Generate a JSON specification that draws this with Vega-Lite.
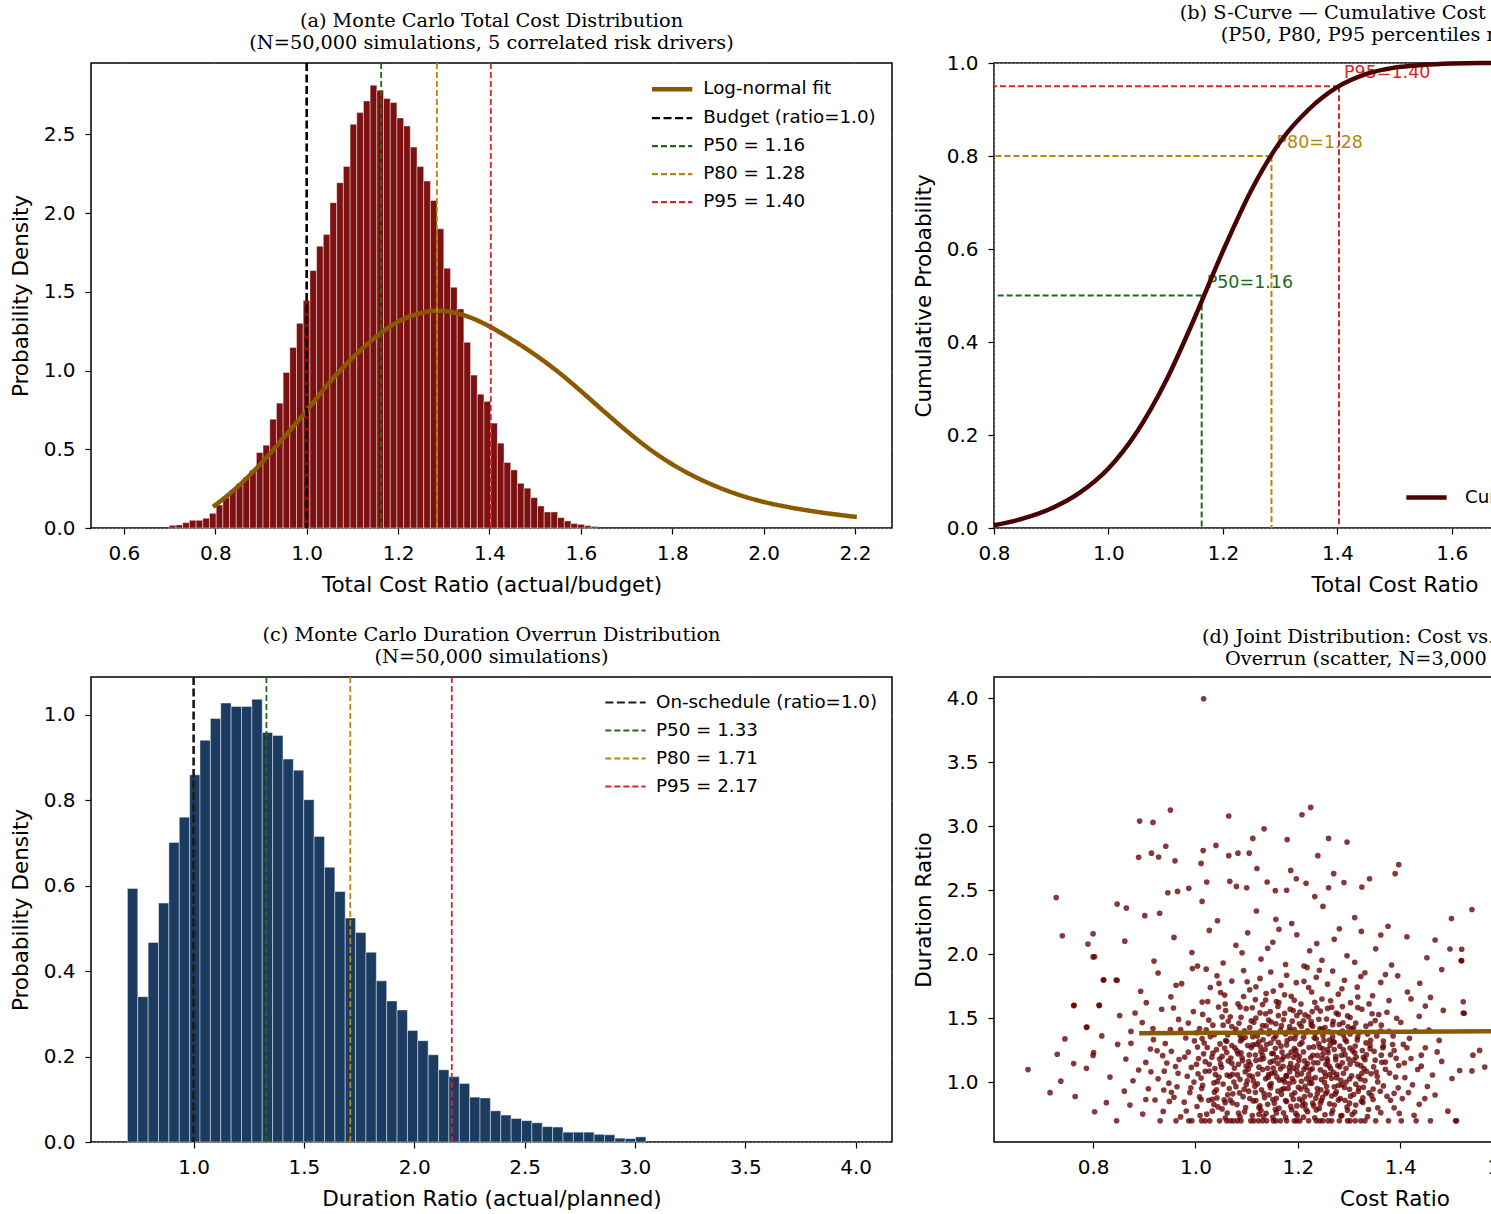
{
"$schema": "https://vega.github.io/schema/vega-lite/v6.json",
"padding": {"left": 9, "top": 2, "right": 5, "bottom": 2},
"background": "white",
"config": {
 "view": {"stroke": "black", "strokeWidth": 1.5},
 "axis": {"domain": false, "grid": true, "gridColor": "white", "gridOpacity": 0.35, "gridDash": [2,2], "tickColor": "black", "tickSize": 6, "tickWidth": 1.2, "labelFont": "DejaVu Sans", "labelFontSize": 20, "labelColor": "black", "labelPadding": 9, "labelFlush": false, "labelOverlap": false, "titleFont": "DejaVu Sans", "titleFontSize": 21.5, "titleFontWeight": "normal", "titleColor": "black", "zindex": 1},
 "axisY": {"titlePadding": 11, "labelPadding": 10},
 "axisX": {"titlePadding": 11},
 "title": {"font": "DejaVu Serif", "fontSize": 19.3, "fontWeight": "normal", "lineHeight": 22, "offset": 8, "anchor": "middle", "color": "black"},
 "legend": {"title": null, "labelFont": "DejaVu Sans", "labelFontSize": 18.3, "labelColor": "black", "labelLimit": 500, "padding": 0, "rowPadding": 5, "symbolType": "M-1.55,0L1.55,0", "symbolSize": 676, "symbolStrokeWidth": 2.2, "labelOffset": 17, "orient": "none"}
},
"spacing": {"row": 28, "column": 19},
"columns": 2,
"resolve": {"scale": {"color": "independent", "strokeDash": "independent"}, "legend": {"color": "independent", "strokeDash": "independent"}},
"datasets": {
 "histA": [
  {"x0":0.6994,"x1":0.7141,"y":0.017},{"x0":0.7141,"x1":0.7287,"y":0.020},{"x0":0.7287,"x1":0.7434,"y":0.034},{"x0":0.7434,"x1":0.7580,"y":0.049},{"x0":0.7580,"x1":0.7727,"y":0.049},{"x0":0.7727,"x1":0.7873,"y":0.062},{"x0":0.7873,"x1":0.8020,"y":0.093},{"x0":0.8020,"x1":0.8166,"y":0.146},{"x0":0.8166,"x1":0.8313,"y":0.193},{"x0":0.8313,"x1":0.8459,"y":0.240},
  {"x0":0.8459,"x1":0.8606,"y":0.282},{"x0":0.8606,"x1":0.8752,"y":0.320},{"x0":0.8752,"x1":0.8899,"y":0.367},{"x0":0.8899,"x1":0.9045,"y":0.479},{"x0":0.9045,"x1":0.9192,"y":0.526},{"x0":0.9192,"x1":0.9338,"y":0.691},{"x0":0.9338,"x1":0.9485,"y":0.793},{"x0":0.9485,"x1":0.9631,"y":0.988},{"x0":0.9631,"x1":0.9778,"y":1.147},{"x0":0.9778,"x1":0.9924,"y":1.300},
  {"x0":0.9924,"x1":1.0071,"y":1.444},{"x0":1.0071,"x1":1.0217,"y":1.635},{"x0":1.0217,"x1":1.0364,"y":1.790},{"x0":1.0364,"x1":1.0510,"y":1.864},{"x0":1.0510,"x1":1.0657,"y":2.066},{"x0":1.0657,"x1":1.0803,"y":2.193},{"x0":1.0803,"x1":1.0950,"y":2.296},{"x0":1.0950,"x1":1.1096,"y":2.564},{"x0":1.1096,"x1":1.1243,"y":2.638},{"x0":1.1243,"x1":1.1389,"y":2.712},
  {"x0":1.1389,"x1":1.1536,"y":2.812},{"x0":1.1536,"x1":1.1682,"y":2.780},{"x0":1.1682,"x1":1.1829,"y":2.727},{"x0":1.1829,"x1":1.1975,"y":2.702},{"x0":1.1975,"x1":1.2122,"y":2.604},{"x0":1.2122,"x1":1.2268,"y":2.553},{"x0":1.2268,"x1":1.2415,"y":2.419},{"x0":1.2415,"x1":1.2561,"y":2.296},{"x0":1.2561,"x1":1.2708,"y":2.203},{"x0":1.2708,"x1":1.2854,"y":2.080},
  {"x0":1.2854,"x1":1.3001,"y":1.900},{"x0":1.3001,"x1":1.3147,"y":1.650},{"x0":1.3147,"x1":1.3294,"y":1.529},{"x0":1.3294,"x1":1.3440,"y":1.391},{"x0":1.3440,"x1":1.3587,"y":1.179},{"x0":1.3587,"x1":1.3733,"y":0.971},{"x0":1.3733,"x1":1.3880,"y":0.850},{"x0":1.3880,"x1":1.4026,"y":0.804},{"x0":1.4026,"x1":1.4173,"y":0.666},{"x0":1.4173,"x1":1.4319,"y":0.539},
  {"x0":1.4319,"x1":1.4466,"y":0.416},{"x0":1.4466,"x1":1.4612,"y":0.369},{"x0":1.4612,"x1":1.4759,"y":0.284},{"x0":1.4759,"x1":1.4905,"y":0.253},{"x0":1.4905,"x1":1.5052,"y":0.193},{"x0":1.5052,"x1":1.5198,"y":0.140},{"x0":1.5198,"x1":1.5345,"y":0.102},{"x0":1.5345,"x1":1.5491,"y":0.102},{"x0":1.5491,"x1":1.5638,"y":0.066},{"x0":1.5638,"x1":1.5784,"y":0.045},
  {"x0":1.5784,"x1":1.5931,"y":0.028},{"x0":1.5931,"x1":1.6077,"y":0.023},{"x0":1.6077,"x1":1.6224,"y":0.015},{"x0":1.6224,"x1":1.6370,"y":0.010}
 ],
 "fitA": [
  {"s":"Log-normal fit","x":0.795,"y":0.134},{"s":"Log-normal fit","x":0.85,"y":0.265},{"s":"Log-normal fit","x":0.9,"y":0.41},{"s":"Log-normal fit","x":0.95,"y":0.575},{"s":"Log-normal fit","x":1.0,"y":0.745},{"s":"Log-normal fit","x":1.05,"y":0.925},{"s":"Log-normal fit","x":1.1,"y":1.08},{"s":"Log-normal fit","x":1.15,"y":1.21},{"s":"Log-normal fit","x":1.2,"y":1.31},{"s":"Log-normal fit","x":1.25,"y":1.365},{"s":"Log-normal fit","x":1.285,"y":1.38},{"s":"Log-normal fit","x":1.32,"y":1.37},{"s":"Log-normal fit","x":1.36,"y":1.335},{"s":"Log-normal fit","x":1.4,"y":1.28},{"s":"Log-normal fit","x":1.45,"y":1.195},{"s":"Log-normal fit","x":1.5,"y":1.1},{"s":"Log-normal fit","x":1.55,"y":0.992},{"s":"Log-normal fit","x":1.6,"y":0.87},{"s":"Log-normal fit","x":1.65,"y":0.742},{"s":"Log-normal fit","x":1.7,"y":0.617},{"s":"Log-normal fit","x":1.75,"y":0.502},{"s":"Log-normal fit","x":1.8,"y":0.405},{"s":"Log-normal fit","x":1.85,"y":0.325},{"s":"Log-normal fit","x":1.9,"y":0.26},{"s":"Log-normal fit","x":1.95,"y":0.207},{"s":"Log-normal fit","x":2.0,"y":0.166},{"s":"Log-normal fit","x":2.05,"y":0.135},{"s":"Log-normal fit","x":2.1,"y":0.11},{"s":"Log-normal fit","x":2.15,"y":0.089},{"s":"Log-normal fit","x":2.204,"y":0.07}
 ],
 "rulesA": [
  {"s":"Budget (ratio=1.0)","x":1.0},{"s":"P50 = 1.16","x":1.163},{"s":"P80 = 1.28","x":1.285},{"s":"P95 = 1.40","x":1.403}
 ],
 "cdfB": [
  {"s":"Cumulative Distribution Function","x":0.8,"y":0.006},{"s":"Cumulative Distribution Function","x":0.85,"y":0.02},{"s":"Cumulative Distribution Function","x":0.9,"y":0.042},{"s":"Cumulative Distribution Function","x":0.95,"y":0.076},{"s":"Cumulative Distribution Function","x":1.0,"y":0.128},{"s":"Cumulative Distribution Function","x":1.05,"y":0.207},{"s":"Cumulative Distribution Function","x":1.1,"y":0.315},{"s":"Cumulative Distribution Function","x":1.15,"y":0.45},{"s":"Cumulative Distribution Function","x":1.2,"y":0.595},{"s":"Cumulative Distribution Function","x":1.25,"y":0.727},{"s":"Cumulative Distribution Function","x":1.3,"y":0.83},{"s":"Cumulative Distribution Function","x":1.35,"y":0.9},{"s":"Cumulative Distribution Function","x":1.4,"y":0.948},{"s":"Cumulative Distribution Function","x":1.45,"y":0.976},{"s":"Cumulative Distribution Function","x":1.5,"y":0.99},{"s":"Cumulative Distribution Function","x":1.55,"y":0.996},{"s":"Cumulative Distribution Function","x":1.6,"y":0.999},{"s":"Cumulative Distribution Function","x":1.65,"y":1.0},{"s":"Cumulative Distribution Function","x":2.2,"y":1.0}
 ],
 "pctB": [
  {"k":"P50","p":1.163,"q":0.5,"t":"P50=1.16"},{"k":"P80","p":1.285,"q":0.8,"t":"P80=1.28"},{"k":"P95","p":1.403,"q":0.95,"t":"P95=1.40"}
 ],
 "histC": [
  {"x0":0.700,"x1":0.747,"y":0.593},{"x0":0.747,"x1":0.794,"y":0.340},{"x0":0.794,"x1":0.841,"y":0.467},{"x0":0.841,"x1":0.888,"y":0.559},{"x0":0.888,"x1":0.935,"y":0.701},{"x0":0.935,"x1":0.982,"y":0.760},{"x0":0.982,"x1":1.029,"y":0.859},{"x0":1.029,"x1":1.076,"y":0.940},{"x0":1.076,"x1":1.123,"y":0.991},{"x0":1.123,"x1":1.170,"y":1.027},
  {"x0":1.170,"x1":1.217,"y":1.019},{"x0":1.217,"x1":1.264,"y":1.019},{"x0":1.264,"x1":1.311,"y":1.036},{"x0":1.311,"x1":1.358,"y":0.958},{"x0":1.358,"x1":1.405,"y":0.951},{"x0":1.405,"x1":1.452,"y":0.896},{"x0":1.452,"x1":1.499,"y":0.870},{"x0":1.499,"x1":1.546,"y":0.801},{"x0":1.546,"x1":1.593,"y":0.715},{"x0":1.593,"x1":1.640,"y":0.643},
  {"x0":1.640,"x1":1.687,"y":0.586},{"x0":1.687,"x1":1.734,"y":0.524},{"x0":1.734,"x1":1.781,"y":0.490},{"x0":1.781,"x1":1.828,"y":0.444},{"x0":1.828,"x1":1.875,"y":0.377},{"x0":1.875,"x1":1.922,"y":0.330},{"x0":1.922,"x1":1.969,"y":0.309},{"x0":1.969,"x1":2.016,"y":0.261},{"x0":2.016,"x1":2.063,"y":0.237},{"x0":2.063,"x1":2.110,"y":0.204},
  {"x0":2.110,"x1":2.157,"y":0.169},{"x0":2.157,"x1":2.204,"y":0.153},{"x0":2.204,"x1":2.251,"y":0.137},{"x0":2.251,"x1":2.298,"y":0.105},{"x0":2.298,"x1":2.345,"y":0.103},{"x0":2.345,"x1":2.392,"y":0.073},{"x0":2.392,"x1":2.439,"y":0.063},{"x0":2.439,"x1":2.486,"y":0.055},{"x0":2.486,"x1":2.533,"y":0.050},{"x0":2.533,"x1":2.580,"y":0.045},
  {"x0":2.580,"x1":2.627,"y":0.036},{"x0":2.627,"x1":2.674,"y":0.035},{"x0":2.674,"x1":2.721,"y":0.023},{"x0":2.721,"x1":2.768,"y":0.023},{"x0":2.768,"x1":2.815,"y":0.023},{"x0":2.815,"x1":2.862,"y":0.018},{"x0":2.862,"x1":2.909,"y":0.017},{"x0":2.909,"x1":2.956,"y":0.009},{"x0":2.956,"x1":3.003,"y":0.008},{"x0":3.003,"x1":3.050,"y":0.012}
 ],
 "rulesC": [
  {"s":"On-schedule (ratio=1.0)","x":1.0},{"s":"P50 = 1.33","x":1.33},{"s":"P80 = 1.71","x":1.71},{"s":"P95 = 2.17","x":2.17}
 ],
 "trendD": [{"c":0.89,"d":1.383},{"c":2.05,"d":1.412}],
 "scatter": [
  {"c":0.846,"d":0.7},{"c":0.931,"d":0.7},{"c":0.962,"d":0.7},{"c":0.987,"d":0.7},{"c":1.012,"d":0.7},{"c":1.028,"d":0.7},{"c":1.047,"d":0.7},{"c":1.061,"d":0.7},{"c":1.074,"d":0.7},{"c":1.089,"d":0.7},{"c":1.108,"d":0.7},{"c":1.123,"d":0.7},{"c":1.139,"d":0.7},{"c":1.152,"d":0.7},{"c":1.166,"d":0.7},{"c":1.178,"d":0.7},{"c":1.193,"d":0.7},{"c":1.204,"d":0.7},{"c":1.221,"d":0.7},{"c":1.236,"d":0.7},{"c":1.249,"d":0.7},{"c":1.266,"d":0.7},{"c":1.281,"d":0.7},{"c":1.297,"d":0.7},{"c":1.312,"d":0.7},{"c":1.331,"d":0.7},{"c":1.352,"d":0.7},{"c":1.377,"d":0.7},{"c":1.402,"d":0.7},{"c":1.431,"d":0.7},{"c":1.459,"d":0.7},{"c":1.508,"d":0.7},{"c":1.068,"d":0.7},{"c":1.157,"d":0.7},{"c":1.243,"d":0.7},{"c":1.019,"d":0.7},{"c":1.114,"d":0.7},{"c":1.302,"d":0.7},{"c":1.198,"d":0.7},{"c":0.993,"d":0.7},{"c":1.082,"d":0.7},{"c":1.131,"d":0.7},{"c":1.259,"d":0.7},{"c":1.323,"d":0.7},
  {"c":0.872,"d":0.823},{"c":0.908,"d":0.951},{"c":0.937,"d":0.774},{"c":0.958,"d":0.884},{"c":0.971,"d":0.731},{"c":0.989,"d":0.921},{"c":1.003,"d":0.812},{"c":1.014,"d":0.978},{"c":1.022,"d":0.752},{"c":1.033,"d":0.868},{"c":1.041,"d":0.942},{"c":1.052,"d":0.793},{"c":1.058,"d":0.722},{"c":1.063,"d":0.903},{"c":1.072,"d":0.841},{"c":1.079,"d":0.967},{"c":1.084,"d":0.761},{"c":1.093,"d":0.889},{"c":1.098,"d":0.804},{"c":1.104,"d":0.932},{"c":1.111,"d":0.741},{"c":1.118,"d":0.858},{"c":1.121,"d":0.989},{"c":1.128,"d":0.782},{"c":1.134,"d":0.913},{"c":1.141,"d":0.829},{"c":1.147,"d":0.958},{"c":1.151,"d":0.728},{"c":1.158,"d":0.876},{"c":1.163,"d":0.799},{"c":1.169,"d":0.944},{"c":1.172,"d":0.763},{"c":1.178,"d":0.851},{"c":1.183,"d":0.991},{"c":1.188,"d":0.787},{"c":1.194,"d":0.919},{"c":1.199,"d":0.742},{"c":1.203,"d":0.871},{"c":1.209,"d":0.818},{"c":1.214,"d":0.969},{"c":1.219,"d":0.771},{"c":1.224,"d":0.901},{"c":1.229,"d":0.838},{"c":1.233,"d":0.724},{"c":1.238,"d":0.952},{"c":1.242,"d":0.797},{"c":1.248,"d":0.881},{"c":1.253,"d":0.748},{"c":1.257,"d":0.928},{"c":1.262,"d":0.833},{"c":1.268,"d":0.781},{"c":1.273,"d":0.909},{"c":1.279,"d":0.862},{"c":1.284,"d":0.739},{"c":1.291,"d":0.961},{"c":1.296,"d":0.808},{"c":1.303,"d":0.893},{"c":1.311,"d":0.769},{"c":1.318,"d":0.931},{"c":1.327,"d":0.843},{"c":1.336,"d":0.733},{"c":1.344,"d":0.897},{"c":1.356,"d":0.802},{"c":1.367,"d":0.973},{"c":1.381,"d":0.861},{"c":1.398,"d":0.758},{"c":1.416,"d":0.921},{"c":1.437,"d":0.829},{"c":1.468,"d":0.902},{"c":1.493,"d":0.776},{"c":0.861,"d":0.932},{"c":0.897,"d":0.753},{"c":0.948,"d":0.994},{"c":1.036,"d":0.827},{"c":1.066,"d":0.952},{"c":1.096,"d":0.771},{"c":1.126,"d":0.818},{"c":1.144,"d":0.903},{"c":1.176,"d":0.727},{"c":1.186,"d":0.813},{"c":1.206,"d":0.948},{"c":1.216,"d":0.789},{"c":1.246,"d":0.859},{"c":1.266,"d":0.757},{"c":1.286,"d":0.982},{"c":1.306,"d":0.749},{"c":1.324,"d":0.853},{"c":1.347,"d":0.949},{"c":1.056,"d":0.864},{"c":1.116,"d":0.971},{"c":1.154,"d":0.838},{"c":1.009,"d":0.741},{"c":0.978,"d":0.846},{"c":1.087,"d":0.733},{"c":1.138,"d":0.759},{"c":1.191,"d":0.868},{"c":1.227,"d":0.993},{"c":1.271,"d":0.823},{"c":1.313,"d":0.987},{"c":1.362,"d":0.764},{"c":0.826,"d":0.842},{"c":0.921,"d":0.863},{"c":1.388,"d":0.915},{"c":1.427,"d":0.743},{"c":1.453,"d":0.968},{"c":0.803,"d":0.771},
  {"c":0.833,"d":1.042},{"c":0.864,"d":1.183},{"c":0.889,"d":1.097},{"c":0.912,"d":1.261},{"c":0.927,"d":1.028},{"c":0.944,"d":1.152},{"c":0.953,"d":1.243},{"c":0.966,"d":1.071},{"c":0.979,"d":1.198},{"c":0.992,"d":1.117},{"c":1.004,"d":1.276},{"c":1.011,"d":1.034},{"c":1.019,"d":1.162},{"c":1.027,"d":1.089},{"c":1.034,"d":1.229},{"c":1.043,"d":1.006},{"c":1.049,"d":1.143},{"c":1.057,"d":1.268},{"c":1.062,"d":1.058},{"c":1.069,"d":1.191},{"c":1.076,"d":1.112},{"c":1.081,"d":1.247},{"c":1.087,"d":1.024},{"c":1.092,"d":1.169},{"c":1.097,"d":1.083},{"c":1.102,"d":1.288},{"c":1.107,"d":1.137},{"c":1.113,"d":1.012},{"c":1.117,"d":1.214},{"c":1.122,"d":1.066},{"c":1.127,"d":1.179},{"c":1.131,"d":1.101},{"c":1.136,"d":1.257},{"c":1.142,"d":1.041},{"c":1.146,"d":1.158},{"c":1.149,"d":1.226},{"c":1.155,"d":1.077},{"c":1.159,"d":1.194},{"c":1.164,"d":1.018},{"c":1.167,"d":1.283},{"c":1.171,"d":1.126},{"c":1.177,"d":1.053},{"c":1.181,"d":1.207},{"c":1.186,"d":1.148},{"c":1.189,"d":1.031},{"c":1.193,"d":1.264},{"c":1.198,"d":1.092},{"c":1.202,"d":1.172},{"c":1.207,"d":1.009},{"c":1.211,"d":1.238},{"c":1.216,"d":1.121},{"c":1.221,"d":1.061},{"c":1.225,"d":1.193},{"c":1.231,"d":1.277},{"c":1.234,"d":1.037},{"c":1.239,"d":1.153},{"c":1.244,"d":1.098},{"c":1.249,"d":1.221},{"c":1.254,"d":1.047},{"c":1.258,"d":1.166},{"c":1.263,"d":1.291},{"c":1.269,"d":1.079},{"c":1.274,"d":1.203},{"c":1.278,"d":1.132},{"c":1.284,"d":1.016},{"c":1.289,"d":1.254},{"c":1.294,"d":1.109},{"c":1.299,"d":1.183},{"c":1.305,"d":1.051},{"c":1.311,"d":1.232},{"c":1.316,"d":1.141},{"c":1.322,"d":1.027},{"c":1.328,"d":1.196},{"c":1.334,"d":1.087},{"c":1.341,"d":1.263},{"c":1.348,"d":1.121},{"c":1.355,"d":1.046},{"c":1.363,"d":1.213},{"c":1.371,"d":1.159},{"c":1.379,"d":1.073},{"c":1.388,"d":1.249},{"c":1.397,"d":1.132},{"c":1.409,"d":1.038},{"c":1.421,"d":1.187},{"c":1.434,"d":1.101},{"c":1.449,"d":1.271},{"c":1.463,"d":1.058},{"c":1.481,"d":1.164},{"c":1.516,"d":1.093},{"c":1.542,"d":1.213},{"c":0.762,"d":1.147},{"c":0.801,"d":1.234},{"c":0.848,"d":1.297},{"c":0.878,"d":1.013},{"c":0.903,"d":1.156},{"c":0.936,"d":1.209},{"c":0.961,"d":1.124},{"c":0.984,"d":1.048},{"c":1.006,"d":1.187},{"c":1.023,"d":1.273},{"c":1.038,"d":1.108},{"c":1.052,"d":1.203},{"c":1.071,"d":1.149},{"c":1.089,"d":1.231},{"c":1.105,"d":1.054},{"c":1.119,"d":1.298},{"c":1.133,"d":1.186},{"c":1.152,"d":1.113},{"c":1.169,"d":1.237},{"c":1.184,"d":1.084},{"c":1.197,"d":1.219},{"c":1.213,"d":1.168},{"c":1.228,"d":1.107},{"c":1.243,"d":1.272},{"c":1.261,"d":1.128},{"c":1.276,"d":1.063},{"c":1.292,"d":1.217},{"c":1.309,"d":1.174},{"c":1.326,"d":1.249},{"c":1.343,"d":1.068},{"c":1.367,"d":1.284},{"c":1.392,"d":1.188},{"c":1.413,"d":1.271},{"c":1.441,"d":1.127},{"c":1.472,"d":1.238},{"c":1.501,"d":1.031},{"c":0.913,"d":1.083},{"c":1.046,"d":1.041},{"c":1.174,"d":1.004},{"c":1.252,"d":1.001},
  {"c":0.788,"d":1.432},{"c":0.817,"d":1.363},{"c":0.852,"d":1.521},{"c":0.874,"d":1.398},{"c":0.896,"d":1.467},{"c":0.918,"d":1.334},{"c":0.934,"d":1.571},{"c":0.951,"d":1.412},{"c":0.967,"d":1.492},{"c":0.981,"d":1.347},{"c":0.996,"d":1.553},{"c":1.008,"d":1.421},{"c":1.017,"d":1.308},{"c":1.026,"d":1.486},{"c":1.037,"d":1.373},{"c":1.045,"d":1.589},{"c":1.054,"d":1.447},{"c":1.061,"d":1.321},{"c":1.068,"d":1.513},{"c":1.077,"d":1.391},{"c":1.085,"d":1.462},{"c":1.091,"d":1.338},{"c":1.099,"d":1.576},{"c":1.106,"d":1.428},{"c":1.112,"d":1.357},{"c":1.118,"d":1.503},{"c":1.124,"d":1.317},{"c":1.131,"d":1.444},{"c":1.137,"d":1.536},{"c":1.143,"d":1.381},{"c":1.148,"d":1.472},{"c":1.153,"d":1.342},{"c":1.161,"d":1.593},{"c":1.166,"d":1.411},{"c":1.172,"d":1.489},{"c":1.179,"d":1.327},{"c":1.184,"d":1.437},{"c":1.191,"d":1.561},{"c":1.196,"d":1.372},{"c":1.203,"d":1.458},{"c":1.208,"d":1.311},{"c":1.214,"d":1.527},{"c":1.219,"d":1.402},{"c":1.226,"d":1.476},{"c":1.232,"d":1.349},{"c":1.237,"d":1.583},{"c":1.243,"d":1.418},{"c":1.249,"d":1.366},{"c":1.256,"d":1.495},{"c":1.262,"d":1.331},{"c":1.268,"d":1.451},{"c":1.275,"d":1.542},{"c":1.281,"d":1.387},{"c":1.288,"d":1.466},{"c":1.295,"d":1.319},{"c":1.302,"d":1.507},{"c":1.309,"d":1.426},{"c":1.317,"d":1.356},{"c":1.325,"d":1.571},{"c":1.333,"d":1.439},{"c":1.342,"d":1.329},{"c":1.351,"d":1.483},{"c":1.362,"d":1.401},{"c":1.374,"d":1.548},{"c":1.386,"d":1.363},{"c":1.401,"d":1.469},{"c":1.418,"d":1.344},{"c":1.437,"d":1.517},{"c":1.456,"d":1.408},{"c":1.484,"d":1.562},{"c":1.523,"d":1.542},{"c":1.449,"d":1.596},{"c":0.941,"d":1.304},{"c":1.002,"d":1.388},{"c":1.059,"d":1.561},{"c":1.109,"d":1.481},{"c":1.157,"d":1.362},{"c":1.198,"d":1.521},{"c":1.241,"d":1.302},{"c":1.287,"d":1.592},{"c":1.336,"d":1.378},{"c":1.393,"d":1.501},{"c":1.034,"d":1.447},{"c":1.088,"d":1.324},{"c":1.146,"d":1.553},{"c":1.187,"d":1.397},{"c":1.229,"d":1.438},{"c":1.271,"d":1.314},{"c":1.313,"d":1.463},{"c":1.358,"d":1.529},{"c":0.986,"d":1.463},{"c":1.128,"d":1.402},{"c":1.211,"d":1.352},{"c":1.258,"d":1.578},{"c":1.302,"d":1.379},{"c":0.874,"d":1.305},{"c":1.071,"d":1.437},{"c":1.174,"d":1.539},
  {"c":0.821,"d":1.801},{"c":0.847,"d":1.797},{"c":0.893,"d":1.712},{"c":0.927,"d":1.854},{"c":0.952,"d":1.668},{"c":0.973,"d":1.771},{"c":0.994,"d":1.889},{"c":1.013,"d":1.627},{"c":1.029,"d":1.741},{"c":1.042,"d":1.833},{"c":1.057,"d":1.682},{"c":1.071,"d":1.791},{"c":1.083,"d":1.614},{"c":1.094,"d":1.873},{"c":1.106,"d":1.723},{"c":1.117,"d":1.647},{"c":1.126,"d":1.812},{"c":1.138,"d":1.694},{"c":1.147,"d":1.862},{"c":1.158,"d":1.631},{"c":1.167,"d":1.758},{"c":1.178,"d":1.837},{"c":1.187,"d":1.672},{"c":1.197,"d":1.779},{"c":1.206,"d":1.612},{"c":1.218,"d":1.898},{"c":1.227,"d":1.706},{"c":1.236,"d":1.821},{"c":1.247,"d":1.651},{"c":1.258,"d":1.767},{"c":1.268,"d":1.869},{"c":1.279,"d":1.689},{"c":1.291,"d":1.798},{"c":1.303,"d":1.623},{"c":1.316,"d":1.744},{"c":1.331,"d":1.856},{"c":1.346,"d":1.677},{"c":1.362,"d":1.781},{"c":1.378,"d":1.639},{"c":1.395,"d":1.832},{"c":1.414,"d":1.706},{"c":1.438,"d":1.774},{"c":1.459,"d":1.664},{"c":1.481,"d":1.881},{"c":0.812,"d":1.603},{"c":0.763,"d":1.602},{"c":0.904,"d":1.623},{"c":0.962,"d":1.759},{"c":1.049,"d":1.702},{"c":1.101,"d":1.786},{"c":1.152,"d":1.713},{"c":1.193,"d":1.641},{"c":1.242,"d":1.876},{"c":1.286,"d":1.731},{"c":1.339,"d":1.613},{"c":1.371,"d":1.842},{"c":1.021,"d":1.884},{"c":1.131,"d":1.608},{"c":1.212,"d":1.789},{"c":1.264,"d":1.638},{"c":1.323,"d":1.827},{"c":1.421,"d":1.652},
  {"c":0.803,"d":1.981},{"c":0.862,"d":2.103},{"c":0.919,"d":1.947},{"c":0.958,"d":2.132},{"c":0.993,"d":2.014},{"c":1.027,"d":2.187},{"c":1.054,"d":1.932},{"c":1.079,"d":2.071},{"c":1.102,"d":2.168},{"c":1.128,"d":1.963},{"c":1.151,"d":2.094},{"c":1.176,"d":1.921},{"c":1.198,"d":2.153},{"c":1.223,"d":2.028},{"c":1.247,"d":1.954},{"c":1.271,"d":2.117},{"c":1.296,"d":1.989},{"c":1.324,"d":2.179},{"c":1.352,"d":2.043},{"c":1.383,"d":1.917},{"c":1.413,"d":2.137},{"c":1.452,"d":1.973},{"c":1.497,"d":2.042},{"c":1.519,"d":1.951},{"c":1.091,"d":2.012},{"c":1.163,"d":2.195},{"c":1.237,"d":2.084},{"c":1.311,"d":1.938},{"c":1.004,"d":1.908},{"c":1.281,"d":2.199},{"c":1.141,"d":2.047},{"c":1.212,"d":1.909},{"c":1.362,"d":2.151},{"c":1.468,"d":2.112},
  {"c":0.847,"d":2.392},{"c":0.865,"d":2.361},{"c":0.901,"d":2.302},{"c":0.93,"d":2.321},{"c":0.946,"d":2.481},{"c":0.965,"d":2.491},{"c":0.987,"d":2.515},{"c":1.08,"d":2.53},{"c":1.1,"d":2.52},{"c":1.156,"d":2.497},{"c":1.178,"d":2.5},{"c":1.26,"d":2.52},{"c":1.325,"d":2.525},{"c":1.022,"d":2.565},{"c":1.067,"d":2.57},{"c":1.197,"d":2.59},{"c":1.216,"d":2.555},{"c":1.14,"d":2.565},{"c":1.29,"d":2.56},{"c":1.34,"d":2.59},{"c":1.5,"d":2.28},{"c":1.54,"d":2.35},{"c":0.728,"d":2.443},{"c":0.74,"d":2.145},{"c":1.043,"d":2.262},{"c":1.119,"d":2.338},{"c":1.188,"d":2.241},{"c":1.249,"d":2.374},{"c":1.311,"d":2.287},{"c":1.376,"d":2.219},{"c":1.013,"d":2.413},{"c":1.233,"d":2.451},{"c":1.157,"d":2.273},
  {"c":1.016,"d":3.995},{"c":0.951,"d":3.126},{"c":0.891,"d":3.04},{"c":0.917,"d":3.03},{"c":1.225,"d":3.147},{"c":1.208,"d":3.09},{"c":1.065,"d":3.08},{"c":1.134,"d":2.98},{"c":1.112,"d":2.905},{"c":1.179,"d":2.896},{"c":1.26,"d":2.905},{"c":1.296,"d":2.876},{"c":0.942,"d":2.844},{"c":0.889,"d":2.758},{"c":0.914,"d":2.79},{"c":0.928,"d":2.76},{"c":1.015,"d":2.81},{"c":1.04,"d":2.85},{"c":1.065,"d":2.77},{"c":1.083,"d":2.79},{"c":1.105,"d":2.79},{"c":1.239,"d":2.77},{"c":1.397,"d":2.7},{"c":1.39,"d":2.63},{"c":0.96,"d":2.73},{"c":1.011,"d":2.71},{"c":1.12,"d":2.67},{"c":1.186,"d":2.655},{"c":1.27,"d":2.63},
  {"c":0.673,"d":1.1},{"c":0.716,"d":0.92},{"c":0.762,"d":1.6},{"c":0.812,"d":1.6},{"c":0.787,"d":1.43},{"c":0.745,"d":1.34},{"c":0.73,"d":1.22},{"c":0.765,"d":0.89},{"c":0.737,"d":1.01},{"c":0.787,"d":1.11},{"c":0.8,"d":1.21},{"c":0.82,"d":1.8},{"c":0.845,"d":1.8},{"c":0.79,"d":2.08},{"c":0.8,"d":2.16},{"c":0.8,"d":1.98},
  {"c":1.51,"d":0.7},{"c":1.52,"d":2.04},{"c":1.52,"d":1.95},{"c":1.523,"d":1.63},{"c":1.525,"d":1.54},{"c":1.555,"d":1.25},{"c":1.54,"d":1.09},{"c":1.565,"d":1.12},{"c":1.62,"d":1.31},{"c":1.71,"d":1.18},{"c":2.1,"d":1.45},
  {"c":1.105,"d":1.215},{"c":1.132,"d":1.333},{"c":1.156,"d":1.267},{"c":1.183,"d":1.118},{"c":1.204,"d":1.298},{"c":1.226,"d":1.026},{"c":1.247,"d":1.187},{"c":1.268,"d":1.356},{"c":1.289,"d":1.071},{"c":1.312,"d":1.284},{"c":1.084,"d":1.142},{"c":1.063,"d":1.372},{"c":1.041,"d":1.256},{"c":1.019,"d":1.087},{"c":0.998,"d":1.324},{"c":1.145,"d":0.978},{"c":1.168,"d":1.443},{"c":1.192,"d":1.006},{"c":1.215,"d":1.389},{"c":1.238,"d":0.913},{"c":1.259,"d":1.232},{"c":1.283,"d":0.874},{"c":1.305,"d":1.418},{"c":1.328,"d":0.962},{"c":1.351,"d":1.174},{"c":1.374,"d":0.892},{"c":1.096,"d":1.402},{"c":1.073,"d":0.911},{"c":1.051,"d":1.118},{"c":1.029,"d":1.358},{"c":1.008,"d":0.887},{"c":0.986,"d":1.236},{"c":0.964,"d":0.966},{"c":1.124,"d":1.119},{"c":1.147,"d":1.308},{"c":1.171,"d":1.022},{"c":1.194,"d":1.341},{"c":1.218,"d":0.937},{"c":1.241,"d":1.493},{"c":1.264,"d":1.109},{"c":1.287,"d":1.401},{"c":1.309,"d":0.906},{"c":1.333,"d":1.309},{"c":1.356,"d":1.004},{"c":1.113,"d":0.856},{"c":1.137,"d":1.643},{"c":1.161,"d":0.932},{"c":1.185,"d":1.572},{"c":1.209,"d":0.853},{"c":1.233,"d":1.626},{"c":1.256,"d":0.968},{"c":1.279,"d":1.531},{"c":1.302,"d":1.143},{"c":1.058,"d":1.612},{"c":1.037,"d":0.924},{"c":1.014,"d":1.531},{"c":0.971,"d":1.412},{"c":0.949,"d":0.852},{"c":1.118,"d":1.747},{"c":1.174,"d":1.684},{"c":1.221,"d":1.741},{"c":1.266,"d":1.587},{"c":1.094,"d":1.671},{"c":1.046,"d":1.773},{"c":1.317,"d":1.667},{"c":1.342,"d":1.458},{"c":1.367,"d":1.322},{"c":1.391,"d":1.042},{"c":1.406,"d":1.297},{"c":1.429,"d":1.402},{"c":1.448,"d":0.874},{"c":1.476,"d":1.328},{"c":0.917,"d":1.421},{"c":0.938,"d":0.941},{"c":0.957,"d":1.581},{"c":0.903,"d":0.867},{"c":0.882,"d":1.542},{"c":1.128,"d":1.239},{"c":1.152,"d":1.167},{"c":1.176,"d":1.378},{"c":1.199,"d":1.058},{"c":1.222,"d":1.273},{"c":1.246,"d":1.023},{"c":1.271,"d":1.257},{"c":1.294,"d":1.003},{"c":1.101,"d":1.012},{"c":1.077,"d":1.271},{"c":1.054,"d":0.987},{"c":1.032,"d":1.197},{"c":1.135,"d":0.882},{"c":1.166,"d":1.106},{"c":1.201,"d":0.962},{"c":1.236,"d":1.341},{"c":1.274,"d":1.178},{"c":1.318,"d":1.046},{"c":1.089,"d":1.508},{"c":1.162,"d":1.521},{"c":1.228,"d":1.553},{"c":1.297,"d":1.519},{"c":1.024,"d":1.631},{"c":1.111,"d":1.583},{"c":1.189,"d":1.478},{"c":1.253,"d":1.428},{"c":1.321,"d":1.392},{"c":1.067,"d":1.048},{"c":1.143,"d":1.061},{"c":1.212,"d":1.103},{"c":1.282,"d":1.122},{"c":1.349,"d":1.243},{"c":1.081,"d":0.827},{"c":1.156,"d":0.791},{"c":1.231,"d":0.817},{"c":1.301,"d":0.838},{"c":1.011,"d":0.866},{"c":1.124,"d":0.751},{"c":1.196,"d":0.758},{"c":1.266,"d":0.894},{"c":1.338,"d":0.789},
  {"c":1.012,"d":0.953},{"c":1.027,"d":1.142},{"c":1.044,"d":0.809},{"c":1.059,"d":1.327},{"c":1.075,"d":1.003},{"c":1.091,"d":1.193},{"c":1.106,"d":0.874},{"c":1.121,"d":1.362},{"c":1.137,"d":1.029},{"c":1.152,"d":1.226},{"c":1.168,"d":0.907},{"c":1.183,"d":1.407},{"c":1.199,"d":1.131},{"c":1.214,"d":0.829},{"c":1.229,"d":1.212},{"c":1.245,"d":0.943},{"c":1.261,"d":1.396},{"c":1.276,"d":1.037},{"c":1.292,"d":0.861},{"c":1.307,"d":1.247},{"c":1.323,"d":1.131},{"c":1.339,"d":0.918},{"c":1.354,"d":1.363},{"c":1.371,"d":1.102},{"c":1.005,"d":1.068},{"c":1.021,"d":1.411},{"c":1.036,"d":0.996},{"c":1.052,"d":1.512},{"c":1.068,"d":0.862},{"c":1.083,"d":1.223},{"c":1.099,"d":1.128},{"c":1.114,"d":1.469},{"c":1.129,"d":0.943},{"c":1.145,"d":1.402},{"c":1.161,"d":1.148},{"c":1.176,"d":0.858},{"c":1.192,"d":1.196},{"c":1.207,"d":1.437},{"c":1.223,"d":0.996},{"c":1.238,"d":1.211},{"c":1.254,"d":0.912},{"c":1.269,"d":1.477},{"c":1.285,"d":1.212},{"c":1.301,"d":0.946},{"c":1.316,"d":1.332},{"c":1.331,"d":1.178},{"c":1.347,"d":0.867},{"c":1.363,"d":1.447},{"c":1.381,"d":1.216},{"c":1.396,"d":0.958},{"c":0.982,"d":0.777},{"c":0.997,"d":1.003},{"c":1.016,"d":1.223},{"c":1.033,"d":0.776},{"c":1.048,"d":1.301},{"c":1.064,"d":1.167},{"c":1.079,"d":1.417},{"c":1.095,"d":0.946},{"c":1.109,"d":1.272},{"c":1.126,"d":1.543},{"c":1.141,"d":1.111},{"c":1.157,"d":1.458},{"c":1.172,"d":1.199},{"c":1.188,"d":0.902},{"c":1.204,"d":1.549},{"c":1.219,"d":1.148},{"c":1.235,"d":0.877},{"c":1.251,"d":1.327},{"c":1.266,"d":1.033},{"c":1.282,"d":1.283},{"c":1.298,"d":1.434},{"c":1.313,"d":0.823},{"c":1.329,"d":1.108},{"c":1.345,"d":1.536},{"c":1.361,"d":0.931},{"c":1.378,"d":1.398},{"c":1.408,"d":1.152},{"c":1.424,"d":0.981},{"c":1.441,"d":1.213},{"c":0.968,"d":1.179},{"c":0.953,"d":0.923},{"c":0.939,"d":1.088},{"c":0.925,"d":1.247},{"c":1.087,"d":1.588},{"c":1.163,"d":1.624},{"c":1.244,"d":1.557},{"c":1.317,"d":1.584},{"c":1.133,"d":0.734},{"c":1.211,"d":0.729},{"c":1.286,"d":0.741},{"c":1.062,"d":0.761},{"c":1.103,"d":1.102},{"c":1.178,"d":1.049},{"c":1.255,"d":1.141},{"c":1.331,"d":1.014},{"c":1.118,"d":1.171},{"c":1.196,"d":1.251},{"c":1.271,"d":0.966},{"c":1.148,"d":0.992},{"c":1.226,"d":1.451},{"c":1.072,"d":1.063},{"c":1.139,"d":1.296},{"c":1.217,"d":1.029},{"c":1.292,"d":1.336},{"c":1.186,"d":1.344},{"c":1.258,"d":1.256},{"c":1.047,"d":1.183},{"c":1.013,"d":1.342},{"c":1.366,"d":1.271},{"c":1.388,"d":0.802},
  {"c":1.058,"d":0.842},{"c":1.071,"d":1.288},{"c":1.086,"d":0.918},{"c":1.097,"d":1.351},{"c":1.111,"d":1.046},{"c":1.124,"d":0.803},{"c":1.138,"d":1.441},{"c":1.149,"d":1.071},{"c":1.162,"d":1.314},{"c":1.173,"d":0.953},{"c":1.187,"d":1.236},{"c":1.198,"d":0.817},{"c":1.211,"d":1.481},{"c":1.224,"d":1.097},{"c":1.236,"d":0.785},{"c":1.249,"d":1.262},{"c":1.262,"d":1.061},{"c":1.275,"d":0.927},{"c":1.289,"d":1.371},{"c":1.301,"d":1.027},{"c":1.314,"d":1.198},{"c":1.327,"d":0.879},{"c":1.341,"d":1.291},{"c":1.353,"d":1.081},{"c":1.082,"d":1.059},{"c":1.104,"d":1.163},{"c":1.127,"d":1.276},{"c":1.151,"d":0.867},{"c":1.169,"d":1.178},{"c":1.191,"d":1.112},{"c":1.213,"d":0.889},{"c":1.234,"d":1.383},{"c":1.257,"d":1.184},{"c":1.279,"d":0.976},{"c":1.302,"d":1.269},{"c":1.325,"d":1.071},{"c":1.061,"d":1.233},{"c":1.039,"d":1.061},{"c":1.042,"d":0.879},{"c":1.117,"d":0.923},{"c":1.159,"d":1.043},{"c":1.203,"d":1.204},{"c":1.244,"d":0.838},{"c":1.287,"d":1.153},{"c":1.334,"d":1.216},{"c":1.099,"d":0.982},{"c":1.178,"d":1.293},{"c":1.252,"d":1.078},{"c":1.319,"d":0.957},{"c":1.131,"d":1.212},{"c":1.207,"d":1.067},{"c":1.269,"d":1.319},{"c":1.087,"d":1.366},{"c":1.158,"d":0.762},{"c":1.231,"d":1.153},{"c":1.297,"d":0.782},{"c":1.026,"d":0.861},{"c":1.364,"d":1.157},{"c":1.385,"d":1.296},{"c":1.404,"d":0.874},{"c":1.002,"d":1.141},{"c":0.991,"d":0.958},{"c":1.143,"d":1.487},{"c":1.221,"d":1.512},{"c":1.281,"d":1.452},{"c":1.064,"d":1.477},{"c":1.181,"d":0.953},{"c":1.247,"d":1.417},{"c":1.112,"d":1.293},{"c":1.193,"d":1.412}
 ]
},
"concat": [
 {
  "width": 801, "height": 465,
  "title": {"text": ["(a) Monte Carlo Total Cost Distribution", "(N=50,000 simulations, 5 correlated risk drivers)"]},
  "layer": [
   {"data": {"name": "histA"}, "mark": {"type": "bar", "fill": "#7d1010", "stroke": "white", "strokeWidth": 0.8, "strokeOpacity": 0.55},
    "encoding": {
     "x": {"field": "x0", "type": "quantitative", "scale": {"domain": [0.528, 2.281], "nice": false, "zero": false}, "axis": {"values": [0.6,0.8,1.0,1.2,1.4,1.6,1.8,2.0,2.2], "format": ".1f"}, "title": "Total Cost Ratio (actual/budget)"},
     "x2": {"field": "x1"},
     "y": {"field": "y", "type": "quantitative", "scale": {"domain": [0, 2.953], "nice": false}, "axis": {"values": [0,0.5,1,1.5,2,2.5], "format": ".1f"}, "title": "Probability Density"},
     "y2": {"datum": 0}
    }},
   {"data": {"name": "fitA"}, "mark": {"type": "line", "strokeWidth": 4.5, "interpolate": "monotone"},
    "encoding": {
     "x": {"field": "x", "type": "quantitative", "title": "Total Cost Ratio (actual/budget)"},
     "y": {"field": "y", "type": "quantitative", "title": "Probability Density"},
     "color": {"field": "s", "type": "nominal", "scale": {"domain": ["Log-normal fit","Budget (ratio=1.0)","P50 = 1.16","P80 = 1.28","P95 = 1.40"], "range": ["#8b5a00","#000000","#1e6b1e","#b8860b","#d62728"]}, "legend": {"orient": "none", "legendX": 572, "legendY": 17, "rowPadding": 9, "labelOffset": 22, "encode": {"symbols": {"update": {"strokeWidth": {"signal": "datum.value === 'Log-normal fit' ? 4.5 : 2.2"}}}}}},
     "strokeDash": {"field": "s", "type": "nominal", "scale": {"domain": ["Log-normal fit","Budget (ratio=1.0)","P50 = 1.16","P80 = 1.28","P95 = 1.40"], "range": [[1,0],[8,3.5],[6,3],[6,3],[6,3]]}, "legend": {"orient": "none", "legendX": 572, "legendY": 17, "rowPadding": 9, "labelOffset": 22}}
    }},
   {"data": {"name": "rulesA"}, "mark": {"type": "rule"},
    "encoding": {
     "x": {"field": "x", "type": "quantitative", "title": "Total Cost Ratio (actual/budget)"},
     "color": {"field": "s", "type": "nominal", "scale": {"domain": ["Log-normal fit","Budget (ratio=1.0)","P50 = 1.16","P80 = 1.28","P95 = 1.40"], "range": ["#8b5a00","#000000","#1e6b1e","#b8860b","#d62728"]}, "legend": {"orient": "none", "legendX": 572, "legendY": 17, "rowPadding": 9, "labelOffset": 22}},
     "strokeDash": {"field": "s", "type": "nominal", "scale": {"domain": ["Log-normal fit","Budget (ratio=1.0)","P50 = 1.16","P80 = 1.28","P95 = 1.40"], "range": [[1,0],[8,3.5],[6,3],[6,3],[6,3]]}, "legend": {"orient": "none", "legendX": 572, "legendY": 17, "rowPadding": 9, "labelOffset": 22}},
     "strokeWidth": {"condition": {"test": "datum.s === 'Budget (ratio=1.0)'", "value": 2.6}, "value": 1.8}
    }}
  ]
 },
 {
  "width": 801, "height": 465,
  "title": {"text": ["(b) S-Curve — Cumulative Cost Distribution", "(P50, P80, P95 percentiles marked)"]},
  "resolve": {"scale": {"color": "independent"}},
  "layer": [
   {"data": {"name": "pctB"}, "mark": {"type": "rule", "strokeWidth": 2, "strokeDash": [6,3]},
    "encoding": {
     "x": {"field": "p", "type": "quantitative", "scale": {"domain": [0.8, 2.2], "nice": false, "zero": false}, "axis": {"values": [0.8,1.0,1.2,1.4,1.6,1.8,2.0,2.2], "format": ".1f"}, "title": "Total Cost Ratio"},
     "x2": {"datum": 0.8},
     "y": {"field": "q", "type": "quantitative", "scale": {"domain": [0, 1], "nice": false}, "axis": {"values": [0,0.2,0.4,0.6,0.8,1.0], "format": ".1f"}, "title": "Cumulative Probability"},
     "color": {"field": "k", "type": "nominal", "scale": {"domain": ["P50","P80","P95"], "range": ["#1e6b1e","#b8860b","#d62728"]}, "legend": null}
    }},
   {"data": {"name": "pctB"}, "mark": {"type": "rule", "strokeWidth": 2, "strokeDash": [6,3]},
    "encoding": {
     "x": {"field": "p", "type": "quantitative", "title": "Total Cost Ratio"},
     "y": {"field": "q", "type": "quantitative", "title": "Cumulative Probability"},
     "y2": {"datum": 0},
     "color": {"field": "k", "type": "nominal", "scale": {"domain": ["P50","P80","P95"], "range": ["#1e6b1e","#b8860b","#d62728"]}, "legend": null}
    }},
   {"data": {"name": "pctB"}, "mark": {"type": "text", "font": "DejaVu Sans", "fontSize": 17.5, "align": "left", "baseline": "middle", "dx": 5, "dy": -13},
    "encoding": {
     "x": {"field": "p", "type": "quantitative", "title": "Total Cost Ratio"},
     "y": {"field": "q", "type": "quantitative", "title": "Cumulative Probability"},
     "text": {"field": "t", "type": "nominal"},
     "color": {"field": "k", "type": "nominal", "scale": {"domain": ["P50","P80","P95"], "range": ["#1e6b1e","#b8860b","#d62728"]}, "legend": null}
    }},
   {"data": {"name": "cdfB"}, "mark": {"type": "line", "strokeWidth": 4.5, "interpolate": "monotone"},
    "encoding": {
     "x": {"field": "x", "type": "quantitative", "title": "Total Cost Ratio"},
     "y": {"field": "y", "type": "quantitative", "title": "Cumulative Probability"},
     "color": {"field": "s", "type": "nominal", "scale": {"domain": ["Cumulative Distribution Function"], "range": ["#4a0303"]}, "legend": {"orient": "none", "legendX": 417, "legendY": 419, "labelOffset": 23, "symbolStrokeWidth": 4.5}}
    }}
  ]
 },
 {
  "width": 801, "height": 465,
  "title": {"text": ["(c) Monte Carlo Duration Overrun Distribution", "(N=50,000 simulations)"]},
  "layer": [
   {"data": {"name": "histC"}, "mark": {"type": "bar", "fill": "#1c3b60", "stroke": "white", "strokeWidth": 0.8, "strokeOpacity": 0.55},
    "encoding": {
     "x": {"field": "x0", "type": "quantitative", "scale": {"domain": [0.535, 4.165], "nice": false, "zero": false}, "axis": {"values": [1.0,1.5,2.0,2.5,3.0,3.5,4.0], "format": ".1f"}, "title": "Duration Ratio (actual/planned)"},
     "x2": {"field": "x1"},
     "y": {"field": "y", "type": "quantitative", "scale": {"domain": [0, 1.088], "nice": false}, "axis": {"values": [0,0.2,0.4,0.6,0.8,1.0], "format": ".1f"}, "title": "Probability Density"},
     "y2": {"datum": 0}
    }},
   {"data": {"name": "rulesC"}, "mark": {"type": "rule"},
    "encoding": {
     "x": {"field": "x", "type": "quantitative", "title": "Duration Ratio (actual/planned)"},
     "color": {"field": "s", "type": "nominal", "scale": {"domain": ["On-schedule (ratio=1.0)","P50 = 1.33","P80 = 1.71","P95 = 2.17"], "range": ["#1a1a1a","#1e6b1e","#b8860b","#d62728"]}, "legend": {"orient": "none", "legendX": 520, "legendY": 11, "labelOffset": 16}},
     "strokeDash": {"field": "s", "type": "nominal", "scale": {"domain": ["On-schedule (ratio=1.0)","P50 = 1.33","P80 = 1.71","P95 = 2.17"], "range": [[8,3.5],[6,3],[6,3],[6,3]]}, "legend": {"orient": "none", "legendX": 520, "legendY": 11, "labelOffset": 16}},
     "strokeWidth": {"condition": {"test": "datum.s === 'On-schedule (ratio=1.0)'", "value": 2.6}, "value": 1.8}
    }}
  ]
 },
 {
  "width": 801, "height": 465,
  "title": {"text": ["(d) Joint Distribution: Cost vs. Duration", "Overrun (scatter, N=3,000 subset)"]},
  "layer": [
   {"data": {"name": "scatter"}, "mark": {"type": "circle", "size": 32, "opacity": 0.78, "color": "#650000"},
    "encoding": {
     "x": {"field": "c", "type": "quantitative", "scale": {"domain": [0.6065, 2.171], "nice": false, "zero": false}, "axis": {"values": [0.8,1.0,1.2,1.4,1.6,1.8,2.0], "format": ".1f"}, "title": "Cost Ratio"},
     "y": {"field": "d", "type": "quantitative", "scale": {"domain": [0.535, 4.165], "nice": false, "zero": false}, "axis": {"values": [1.0,1.5,2.0,2.5,3.0,3.5,4.0], "format": ".1f"}, "title": "Duration Ratio"}
    }},
   {"data": {"name": "trendD"}, "mark": {"type": "line", "color": "#8b5a00", "strokeWidth": 4.5},
    "encoding": {
     "x": {"field": "c", "type": "quantitative", "title": "Cost Ratio"},
     "y": {"field": "d", "type": "quantitative", "title": "Duration Ratio"}
    }}
  ]
 }
]
}
